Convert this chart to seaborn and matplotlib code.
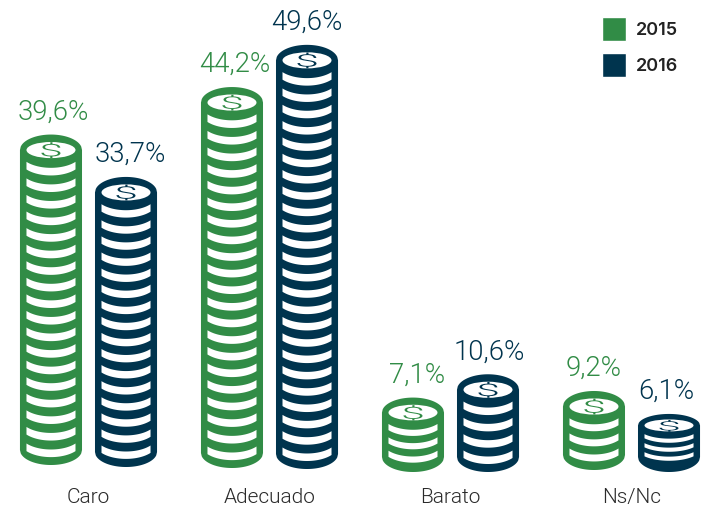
import numpy as np
import pandas as pd
import seaborn as sns
import matplotlib
matplotlib.use("Agg")
import matplotlib.pyplot as plt
from matplotlib.patches import Ellipse, Polygon
from matplotlib.patheffects import AbstractPathEffect
from matplotlib.transforms import Affine2D

categories = ["Caro", "Adecuado", "Barato", "Ns/Nc"]
years = ["2015", "2016"]
values_2015 = [39.6, 44.2, 7.1, 9.2]
values_2016 = [33.7, 49.6, 10.6, 6.1]
value_labels_2015 = ["39,6%", "44,2%", "7,1%", "9,2%"]
value_labels_2016 = ["33,7%", "49,6%", "10,6%", "6,1%"]

# visible bands per stack, coin face height, and how far the coin rim and foot
# sit from the end of each bar
layers_2015 = [18, 21, 3, 3]
layers_2016 = [16, 24, 4, 3]
cap_px_2015 = [31, 31, 30, 31]
cap_px_2016 = [31, 31, 31, 23]
cap_lift_2015 = [4, 13, 13, 2]
cap_lift_2016 = [11, 10, 7, 5]
foot_px_2015 = [-5, -2, 2, 0]
foot_px_2016 = [-3, -1, 2, 2]
label_shift_2015 = [2, 3, 4, 0]
label_shift_2016 = [4, 0, 1, -3]

palette = {"2015": "#318C46", "2016": "#00344E"}
FONT = "Roboto"
AXIS_BOTTOM_PX = 470
PX_PER_UNIT = 8.37


class WidenGlyph(AbstractPathEffect):
    """Stretch a glyph sideways about its own centre."""

    def __init__(self, factor):
        super().__init__()
        self.factor = factor

    def draw_path(self, renderer, gc, tpath, affine, rgbFace=None):
        box = tpath.get_extents(affine)
        mid = (box.x0 + box.x1) / 2
        stretch = Affine2D().translate(-mid, 0).scale(self.factor, 1).translate(mid, 0)
        renderer.draw_path(gc, tpath, affine + stretch, rgbFace)


sns.set_theme(style="white")
plt.rcParams["font.family"] = [FONT, "DejaVu Sans"]

df = pd.DataFrame({
    "categoria": categories * 2,
    "anio": [years[0]] * 4 + [years[1]] * 4,
    "valor": values_2015 + values_2016,
})

fig = plt.figure(figsize=(7.02, 5.08), dpi=100)
ax = fig.add_axes([0, (508 - AXIS_BOTTOM_PX) / 508, 1, AXIS_BOTTOM_PX / 508])
sns.barplot(data=df, x="categoria", y="valor", hue="anio", order=categories,
            hue_order=years, palette=palette, width=0.829, gap=0.173,
            saturation=1, errorbar=None, ax=ax)

ax.set_xlim(-88.5 / 181, (702 - 88.5) / 181)
ax.set_ylim(0, AXIS_BOTTOM_PX / PX_PER_UNIT)
ax.set_xlabel("")
ax.set_ylabel("")
ax.set_yticks([])
ax.tick_params(axis="x", length=0, pad=13)
for tick in ax.get_xticklabels():
    tick.set_fontsize(15)
    tick.set_fontweight(300)
    tick.set_color("#2A2A2A")
sns.despine(ax=ax, left=True, bottom=True)

handles, labels = ax.get_legend_handles_labels()
legend = ax.legend(handles, labels, loc="upper left", frameon=False,
                   bbox_to_anchor=(602 / 702, 1 - 17 / 508),
                   bbox_transform=fig.transFigure,
                   prop={"family": "Inter", "weight": 600, "size": 13},
                   handlelength=1.33, handleheight=1.68, labelspacing=0.66,
                   handletextpad=0.55, borderpad=0, borderaxespad=0)
for entry in legend.get_texts():
    entry.set_color("#222222")

y_per_px = 1 / PX_PER_UNIT


def draw_stack(bar, color, label, layers, cap_px, lift_px, foot_px, shift_px):
    half = bar.get_width() / 2
    cx = bar.get_x() + half
    px_x = half / 31
    b = cap_px / 2 * y_per_px
    top = bar.get_height() + lift_px * y_per_px
    foot = -foot_px * y_per_px
    foot_b = 15 * y_per_px

    t = np.linspace(-1, 1, 81)
    arc = np.sqrt(1 - t ** 2)
    upper = top - b + b * arc
    lower = foot + foot_b * (1 - arc)
    outline = np.r_[np.c_[cx + half * t, upper], np.c_[cx + half * t[::-1], lower[::-1]]]
    body = Polygon(outline, closed=True, facecolor=color, edgecolor="none",
                   clip_on=False, zorder=3)
    ax.add_patch(body)
    bar.set_visible(False)

    inner = 0.79
    face_h = cap_px * 0.52 * y_per_px
    ax.add_patch(Ellipse((cx, top - b), 2 * half * inner, face_h, facecolor="white",
                         edgecolor="none", zorder=4, clip_on=False))
    ax.text(cx, top - b, "$", color=color, ha="center", va="center_baseline",
            fontsize=cap_px * 0.4, fontweight=300, parse_math=False, zorder=5,
            clip_on=False, path_effects=[WidenGlyph(2.5 * 31 / cap_px)])

    # white bands run from under the coin face down to the foot of the stack
    first = top - cap_px * 0.88 * y_per_px
    last = foot + (15 + 6.5 * cap_px / 31) * y_per_px
    pitch = (first - last) / (layers - 1)
    thick = pitch * 0.46
    s = np.linspace(-1, 1, 41)
    sag = b * (np.sqrt(1 - (inner * s) ** 2) - np.sqrt(1 - inner ** 2))
    for k in range(layers):
        y0 = first - k * pitch
        top_edge = y0 - sag
        bottom_edge = top_edge - thick
        pts = np.r_[np.c_[cx + half * inner * s, top_edge],
                    np.c_[cx + half * inner * s[::-1], bottom_edge[::-1]]]
        ax.add_patch(Polygon(pts, closed=True, facecolor="white", edgecolor="none",
                             zorder=4, clip_on=False))

    ax.text(cx + shift_px * px_x, top + 15 * y_per_px, label, color=color, ha="center",
            va="baseline", fontsize=19.8, fontweight=300, zorder=5, clip_on=False)


series = [
    (years[0], value_labels_2015, layers_2015, cap_px_2015, cap_lift_2015, foot_px_2015, label_shift_2015),
    (years[1], value_labels_2016, layers_2016, cap_px_2016, cap_lift_2016, foot_px_2016, label_shift_2016),
]
for container, (year, texts, layers, caps, lifts, feet, shifts) in zip(ax.containers, series):
    for bar, text, n, cap, lift, foot, shift in zip(container, texts, layers, caps, lifts, feet, shifts):
        draw_stack(bar, palette[year], text, n, cap, lift, foot, shift)

fig.savefig("out.png", dpi=100)
